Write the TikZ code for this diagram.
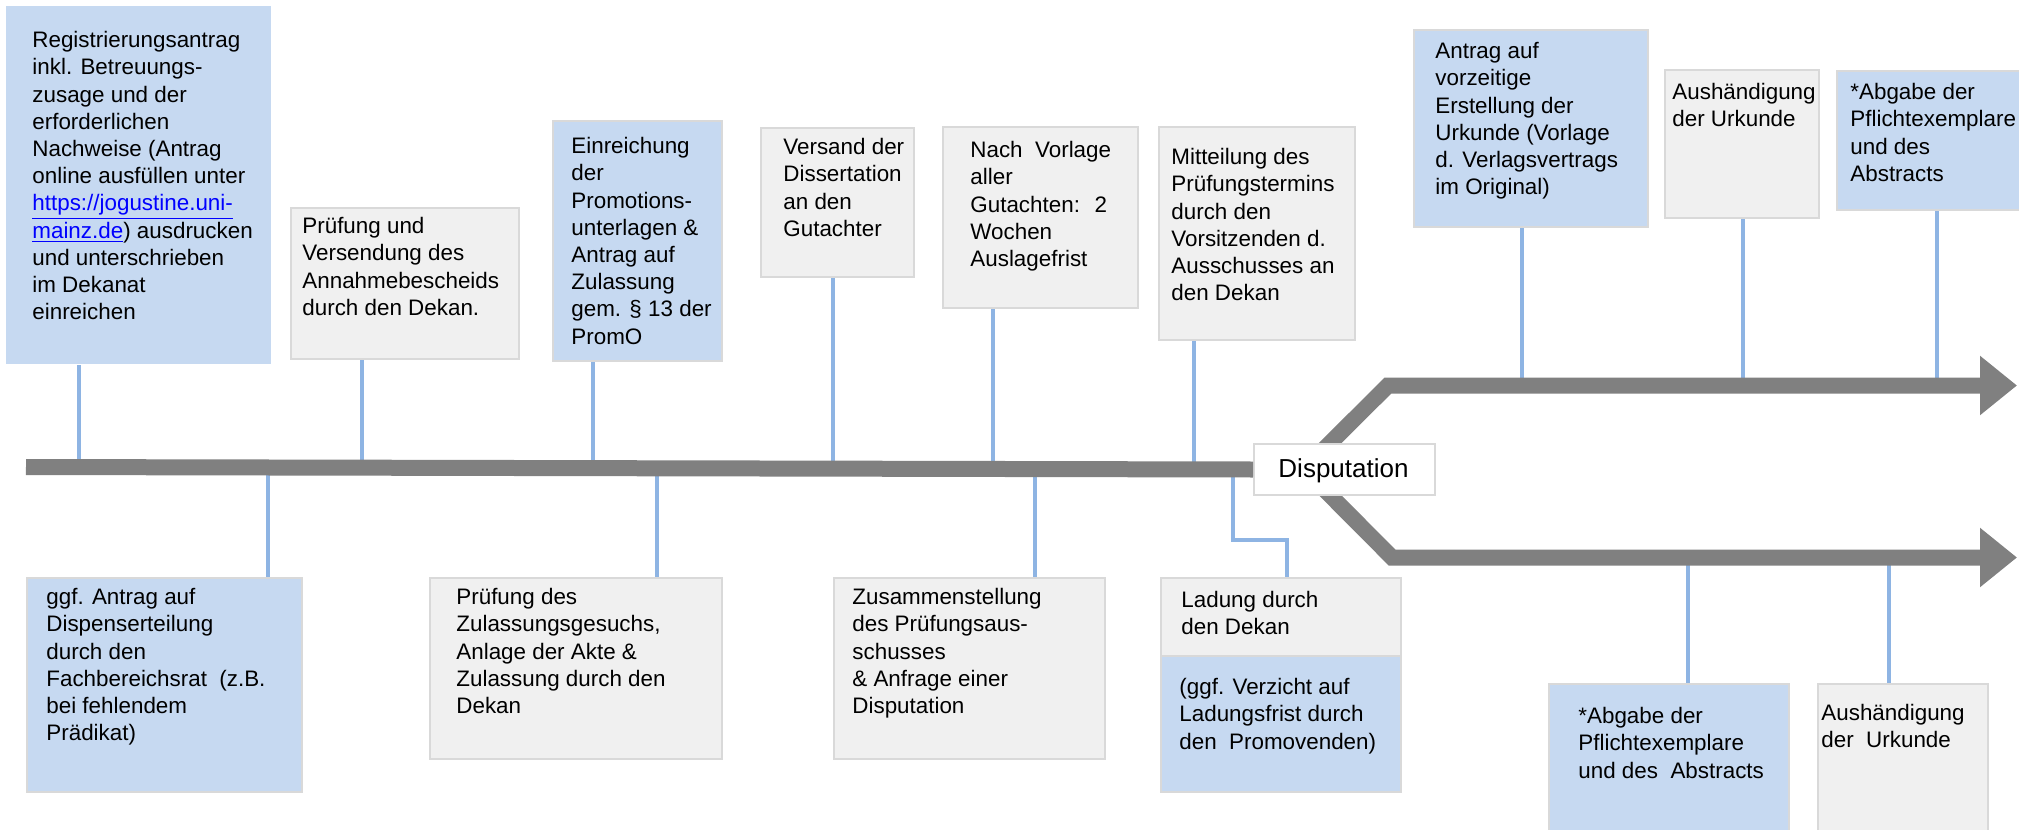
\documentclass[tikz,border=0pt]{standalone}
\usepackage{fontspec}
\setmainfont{Liberation Sans}
\usetikzlibrary{arrows.meta}
\definecolor{boxblue}{HTML}{C6D9F1}
\definecolor{boxgray}{HTML}{F0F0F0}
\definecolor{boxline}{HTML}{D9D9D9}
\definecolor{connblue}{HTML}{8EB4E3}
\definecolor{bargray}{HTML}{808080}
\definecolor{linkblue}{HTML}{0000FF}
\tikzset{
  box/.style={draw=boxline, line width=1pt, inner sep=0pt, anchor=north west},
  bluebox/.style={box, fill=boxblue},
  graybox/.style={box, fill=boxgray},
  txt/.style={font=\fontsize{11.2pt}{13.6pt}\selectfont, align=left, inner sep=0pt,
    anchor=north west, yshift=10pt, execute at begin node={\rule{0pt}{10pt}}},
  conn/.style={draw=connblue, line width=2pt},
  bar/.style={draw=bargray, line width=8pt, line join=miter},
  tipbar/.style={bar, -{Triangle[length=18.5pt,width=28.5pt]}}
}
\begin{document}
\begin{tikzpicture}[x=0.5pt,y=-0.5pt]
\useasboundingbox (0,0) rectangle (2019,830);

% ---------- coordinates on the bars
\coordinate (m1) at (79,467);
\coordinate (m2) at (362,467);
\coordinate (m3) at (593,467);
\coordinate (m4) at (833,467);
\coordinate (m5) at (993,467);
\coordinate (m6) at (1194,467);
\coordinate (n1) at (268,467);
\coordinate (n2) at (657,467);
\coordinate (n3) at (1035,467);
\coordinate (n4) at (1233,467);
\coordinate (k1) at (1233,540);
\coordinate (k2) at (1287,540);
\coordinate (p1) at (1522,385.5);
\coordinate (p2) at (1743,385.5);
\coordinate (p3) at (1937,385.5);
\coordinate (q1) at (1688,557.5);
\coordinate (q2) at (1889,557.5);

% ---------- boxes (upper)
\node[bluebox, draw=none, minimum width=132.5pt, minimum height=179pt] (b1) at (5,5) {};
\node[graybox, minimum width=114pt, minimum height=75.5pt] (b2) at (290,207) {};
\node[bluebox, minimum width=84.5pt, minimum height=120pt] (b3) at (552,120) {};
\node[graybox, minimum width=76.5pt, minimum height=74.5pt] (b4) at (760,127) {};
\node[graybox, minimum width=97.5pt, minimum height=90.5pt] (b5) at (942,126) {};
\node[graybox, minimum width=98pt, minimum height=106.5pt] (b6) at (1158,126) {};
\node[bluebox, minimum width=117pt, minimum height=98.5pt] (b7) at (1413,29) {};
\node[graybox, minimum width=77pt, minimum height=74pt] (b8) at (1664,69) {};
\node[bluebox, minimum width=93pt, minimum height=69.5pt] (b9) at (1836,70) {};

% ---------- boxes (lower)
\node[bluebox, minimum width=137.5pt, minimum height=107pt] (l1) at (26,577) {};
\node[graybox, minimum width=146pt, minimum height=90.5pt] (l2) at (429,577) {};
\node[graybox, minimum width=135.5pt, minimum height=90.5pt] (l3) at (833,577) {};
\node[graybox, minimum width=120pt, minimum height=39pt] (l4a) at (1160,577) {};
\node[bluebox, minimum width=120pt, minimum height=68pt] (l4b) at (1160,655) {};
\node[bluebox, minimum width=120pt, minimum height=76pt] (l5) at (1548,683) {};
\node[graybox, minimum width=85pt, minimum height=76pt] (l6) at (1817,683) {};

% ---------- connectors
\draw[conn] (b1.south -| m1) -- (m1);
\draw[conn] (b2.south -| m2) -- (m2);
\draw[conn] (b3.south -| m3) -- (m3);
\draw[conn] (b4.south -| m4) -- (m4);
\draw[conn] (b5.south -| m5) -- (m5);
\draw[conn] (b6.south -| m6) -- (m6);
\draw[conn] (b7.south -| p1) -- (p1);
\draw[conn] (b8.south -| p2) -- (p2);
\draw[conn] (b9.south -| p3) -- (p3);
\draw[conn] (n1) -- (l1.north -| n1);
\draw[conn] (n2) -- (l2.north -| n2);
\draw[conn] (n3) -- (l3.north -| n3);
\draw[conn] (n4) -- (k1) -- (k2) -- (l4a.north -| k2);
\draw[conn] (q1) -- (l5.north -| q1);
\draw[conn] (q2) -- (l6.north -| q2);

% ---------- bars
\coordinate (s0) at (26,467);
\coordinate (su) at (1307,466);
\coordinate (cu) at (1388,385.5);
\coordinate (eu) at (2017,385.5);
\coordinate (sl) at (1301,466);
\coordinate (cl) at (1392,557.5);
\coordinate (el) at (2017,557.5);
\draw[tipbar] (su) -- (cu) -- (eu);
\draw[tipbar] (sl) -- (cl) -- (el);
\node[box, fill=white, minimum width=90.5pt, minimum height=25.5pt] (disp) at (1253,443) {};
\draw[bar] (s0) -- (disp.west);
\node[font=\fontsize{13pt}{15pt}\selectfont, inner sep=0pt, anchor=base] (dt) at (1343.5,477) {Disputation};

% ---------- texts (upper)
\node[txt] (t1) at (32,51) {Registrierungsantrag\\inkl. Betreuungs-\\zusage und der\\erforderlichen\\Nachweise (Antrag\\online ausfüllen unter\\\textcolor{linkblue}{\underline{https://jogustine.uni-}}\\\textcolor{linkblue}{\underline{mainz.de}}) ausdrucken\\und unterschrieben\\im Dekanat\\einreichen};
\node[txt] (t2) at (302,237) {Prüfung und\\Versendung des\\Annahmebescheids\\durch den Dekan.};
\node[txt] (t3) at (571,157) {Einreichung\\der\\Promotions-\\unterlagen \&\\Antrag auf\\Zulassung\\gem. § 13 der\\PromO};
\node[txt] (t4) at (783,158) {Versand der\\Dissertation\\an den\\Gutachter};
\node[txt] (t5) at (970,161) {Nach~ Vorlage\\aller\\Gutachten:~ 2\\Wochen\\Auslagefrist};
\node[txt] (t6) at (1171,168) {Mitteilung des\\Prüfungstermins\\durch den\\Vorsitzenden d.\\Ausschusses an\\den Dekan};
\node[txt] (t7) at (1435,62) {Antrag auf\\vorzeitige\\Erstellung der\\Urkunde (Vorlage\\d. Verlagsvertrags\\im Original)};
\node[txt] (t8) at (1672,103) {Aushändigung\\der Urkunde};
\node[txt] (t9) at (1850,103) {*Abgabe der\\Pflichtexemplare\\und des\\Abstracts};

% ---------- texts (lower)
\node[txt] (u1) at (46,608) {ggf. Antrag auf\\Dispenserteilung\\durch den\\Fachbereichsrat~ (z.B.\\bei fehlendem\\Prädikat)};
\node[txt] (u2) at (456,608) {Prüfung des\\Zulassungsgesuchs,\\Anlage der Akte \&\\Zulassung durch den\\Dekan};
\node[txt] (u3) at (852,608) {Zusammenstellung\\des Prüfungsaus-\\schusses\\\& Anfrage einer\\Disputation};
\node[txt] (u4a) at (1181,611) {Ladung durch\\den Dekan};
\node[txt] (u4b) at (1179,698) {(ggf. Verzicht auf\\Ladungsfrist durch\\den~ Promovenden)};
\node[txt] (u5) at (1578,727) {*Abgabe der\\Pflichtexemplare\\und des~ Abstracts};
\node[txt] (u6) at (1821,724) {Aushändigung\\der~ Urkunde};
\end{tikzpicture}
\end{document}
